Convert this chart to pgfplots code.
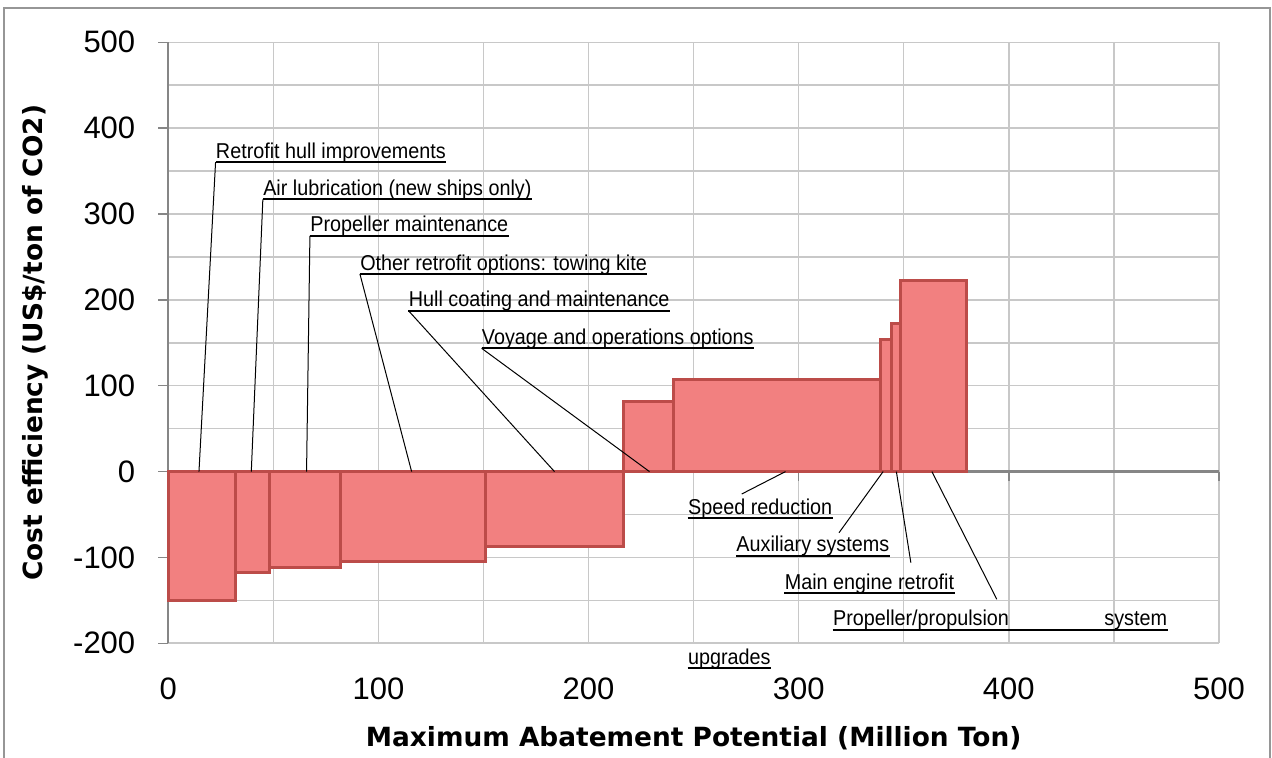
\documentclass[border=0pt]{standalone}
\usepackage{fontspec}
\setmainfont{Liberation Sans}
\newfontfamily\annfont[FakeStretch=0.92]{Liberation Sans}
\newfontfamily\labfont{DejaVu Sans}
\usepackage{pgfplots}
\pgfplotsset{compat=1.18}

\definecolor{gridgray}{RGB}{200,200,200}
\definecolor{axisgray}{RGB}{134,134,134}
\definecolor{framegray}{RGB}{150,150,150}
\definecolor{barfill}{RGB}{242,128,128}
\definecolor{baredge}{RGB}{188,76,73}

\tikzset{
  lbl/.style={anchor=base west, inner sep=0pt, font=\annfont\fontsize{10.75pt}{12pt}\selectfont},
  uline/.style={black, line width=0.9pt},
  lead/.style={black, line width=0.5pt},
}

\begin{document}
\begin{tikzpicture}
\useasboundingbox (-84.15pt,-56.85pt) rectangle (551.85pt,321.65pt);
\draw[framegray, line width=0.75pt] (-82.15pt,-70pt) -- (-82.15pt,317.65pt) -- (550.85pt,317.65pt) -- (550.85pt,-70pt);
\begin{axis}[
  scale only axis, width=525.3pt, height=300.5pt,
  xmin=0, xmax=500, ymin=-200, ymax=500,
  xtick={0,100,...,500}, minor xtick={50,150,...,450},
  ytick={-200,-100,...,500}, minor ytick={-150,-50,...,450},
  grid=both,
  major grid style={gridgray, line width=0.75pt},
  minor grid style={gridgray, line width=0.75pt},
  axis x line*=bottom, axis y line*=left,
  x axis line style={draw=gridgray, line width=1pt},
  y axis line style={draw=axisgray, line width=1pt},
  tick align=outside, major tick length=5pt, minor tick length=0pt,
  ytick style={axisgray, line width=0.75pt},
  xtick style={draw=none},
  ticklabel style={font=\fontsize{15.5pt}{18pt}\selectfont},
  /pgf/number format/assume math mode=true,
  xticklabel style={yshift=-8.5pt},
  yticklabel style={xshift=-8pt},
  xlabel={Maximum Abatement Potential (Million Ton)},
  xlabel style={font=\labfont\bfseries\fontsize{13.2pt}{15pt}\selectfont,
    at={(axis description cs:0.5,-0.1576)}, anchor=center},
  ylabel={Cost efficiency (US\$/ton of CO2)},
  ylabel style={font=\labfont\bfseries\fontsize{13.2pt}{15pt}\selectfont,
    at={(axis description cs:-0.1266,0.5)}, anchor=center},
  clip=false,
]
% axis line at zero
\draw[axisgray, line width=1.25pt] (axis cs:0,0) -- (axis cs:500,0);
\pgfplotsinvokeforeach{0,100,200,300,400,500}{
  \draw[axisgray, line width=0.75pt] (axis cs:#1,0) -- ++(0pt,-4.5pt);
}

% cost curve: width = abatement potential, height = cost efficiency
\addplot[ybar interval, fill=barfill, draw=baredge, line width=1.5pt]
coordinates {
  (0,-150) (32,-118) (48,-112) (82,-105) (151,-87)
  (216.5,82) (240.5,107) (339,154) (344,172) (348.5,222) (380,222)
};

% labels above
\node[lbl] (a1) at (axis cs:22.5,365.2) {Retrofit hull improvements};
\draw[uline] ([yshift=-2pt]a1.base west) -- ([yshift=-2pt]a1.base east);
\draw[lead] ([yshift=-2pt]a1.base west) -- (axis cs:14.6,0);

\node[lbl] (a2) at (axis cs:45.0,321.8) {Air lubrication (new ships only)};
\draw[uline] ([yshift=-2pt]a2.base west) -- ([yshift=-2pt]a2.base east);
\draw[lead] ([yshift=-2pt]a2.base west) -- (axis cs:39.5,0);

\node[lbl] (a3) at (axis cs:67.4,279.1) {Propeller maintenance};
\draw[uline] ([yshift=-2pt]a3.base west) -- ([yshift=-2pt]a3.base east);
\draw[lead] ([yshift=-2pt]a3.base west) -- (axis cs:65.8,0);

\node[lbl] (a4) at (axis cs:91.2,234.8) {Other retrofit options: towing kite};
\draw[uline] ([yshift=-2pt]a4.base west) -- ([yshift=-2pt]a4.base east);
\draw[lead] ([yshift=-2pt]a4.base west) -- (axis cs:115.8,0);

\node[lbl] (a5) at (axis cs:114.3,192.1) {Hull coating and maintenance};
\draw[uline] ([yshift=-2pt]a5.base west) -- ([yshift=-2pt]a5.base east);
\draw[lead] ([yshift=-2pt]a5.base west) -- (axis cs:183.8,0);

\node[lbl] (a6) at (axis cs:149.1,148.3) {Voyage and operations options};
\draw[uline] ([yshift=-2pt]a6.base west) -- ([yshift=-2pt]a6.base east);
\draw[lead] ([yshift=-2pt]a6.base west) -- (axis cs:229,0);

% labels below
\node[lbl] (b1) at (axis cs:247.2,-49.7) {Speed reduction};
\draw[uline] ([yshift=-2pt]b1.base west) -- ([yshift=-2pt]b1.base east);
\draw[lead] (axis cs:272.9,-26.1) -- (axis cs:293.7,0);

\node[lbl] (b2) at (axis cs:270.2,-93.6) {Auxiliary systems};
\draw[uline] ([yshift=-2pt]b2.base west) -- ([yshift=-2pt]b2.base east);
\draw[lead] (axis cs:319.2,-71.2) -- (axis cs:340.2,0);

\node[lbl] (b3) at (axis cs:293.2,-137.1) {Main engine retrofit};
\draw[uline] ([yshift=-2pt]b3.base west) -- ([yshift=-2pt]b3.base east);
\draw[lead] (axis cs:353.4,-106.1) -- (axis cs:346.5,0);

\node[lbl] (b4) at (axis cs:316.2,-179.8) {\makebox[167pt][l]{Propeller/propulsion\hfill system}};
\draw[uline] ([yshift=-2pt]b4.base west) -- ([yshift=-2pt]b4.base east);
\draw[lead] (axis cs:394.3,-148.7) -- (axis cs:363.4,0);

\node[lbl] (b5) at (axis cs:247.2,-224.4) {upgrades};
\draw[uline] ([yshift=-2pt]b5.base west) -- ([yshift=-2pt]b5.base east);
\end{axis}
\end{tikzpicture}
\end{document}
